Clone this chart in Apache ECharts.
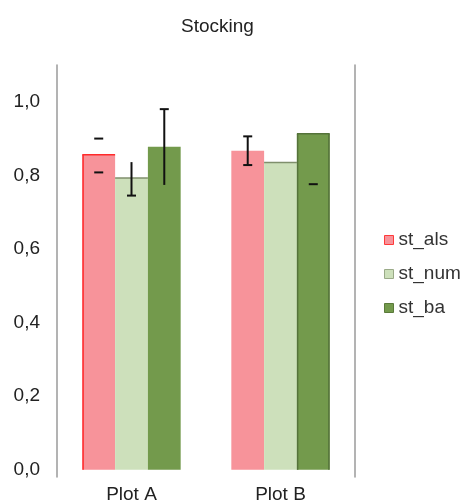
<!DOCTYPE html>
<html>
<head>
<meta charset="utf-8">
<script src="https://cdn.jsdelivr.net/npm/echarts@6/dist/echarts.min.js"></script>
<style>html,body{margin:0;padding:0;background:#fff}#c{width:464px;height:504px}</style>
</head>
<body>
<div id="c"></div>
<script>
const categories = ['Plot A', 'Plot B'];
const seriesNames = ['st_als', 'st_num', 'st_ba'];
const alsValues = [0.856, 0.867];
const numValues = [0.793, 0.835];
const baValues = [0.878, 0.913];
const alsErrLow = [0.808, 0.828];
const alsErrHigh = [0.900, 0.906];
const numErrLow = [0.745, null];
const numErrHigh = [0.836, null];
const baErrLow = [0.774, 0.776];
const baErrHigh = [0.980, null];
const yTickValues = [0, 0.2, 0.4, 0.6, 0.8, 1.0];

// which parts of each error bar are visible in the reference
const alsErrParts = [{stem:false, capLow:true, capHigh:true}, {stem:true, capLow:true, capHigh:true}];
const numErrParts = [{stem:true, capLow:true, capHigh:false}, null];
const baErrParts = [{stem:true, capLow:false, capHigh:true}, {stem:false, capLow:true, capHigh:false}];

// which bar edges are outlined (left, top, right) and in what colour
const alsEdges = [{color:'#ff2b2b', sides:['left','top']}, null];
const numEdges = [{color:'#7f8f6c', sides:['top']}, {color:'#7f8f6c', sides:['top']}];
const baEdges = [null, {color:'#55733a', sides:['left','top','right']}];

const colors = ['#f7939a', '#cde0bb', '#739a4c'];
const FONT = 'Liberation Sans, Arial, sans-serif';
const BAR_FRAC = 0.22;

function errSeries(k, low, high, parts) {
  const data = categories.map((c, i) => [i, low[i] == null ? NaN : low[i], high[i] == null ? NaN : high[i]]);
  return {
    type: 'custom',
    name: seriesNames[k] + '_err',
    z: 10,
    silent: true,
    encode: { x: 0, y: [1, 2] },
    data: data,
    renderItem: function (params, api) {
      const i = api.value(0);
      const p = parts[i];
      if (!p) return null;
      const band = api.size([1, 0])[0];
      const cx = api.coord([i, 0])[0] + (k - 1) * BAR_FRAC * band;
      const lo = api.value(1), hi = api.value(2);
      const children = [];
      const st = { stroke: '#111', lineWidth: 2 };
      const half = 4.5;
      const yLo = isNaN(lo) ? null : api.coord([i, lo])[1];
      const yHi = isNaN(hi) ? null : api.coord([i, hi])[1];
      if (p.stem && yLo != null && yHi != null) {
        children.push({ type: 'line', shape: { x1: cx, y1: yLo, x2: cx, y2: yHi }, style: st });
      }
      if (p.capLow && yLo != null) {
        children.push({ type: 'line', shape: { x1: cx - half, y1: yLo, x2: cx + half, y2: yLo }, style: st });
      }
      if (p.capHigh && yHi != null) {
        children.push({ type: 'line', shape: { x1: cx - half, y1: yHi, x2: cx + half, y2: yHi }, style: st });
      }
      return { type: 'group', children: children };
    }
  };
}

function edgeSeries(k, values, edges) {
  return {
    type: 'custom', name: seriesNames[k] + '_edge', z: 5, silent: true,
    encode: { x: 0, y: 1 },
    data: values.map((v, i) => [i, v]),
    renderItem: function (params, api) {
      const i = api.value(0);
      const e = edges[i];
      if (!e) return null;
      const band = api.size([1, 0])[0];
      const w = BAR_FRAC * band;
      const cx = api.coord([i, 0])[0] + (k - 1) * w;
      const y0 = api.coord([i, 0])[1];
      const y = api.coord([i, api.value(1)])[1];
      const x1 = cx - w / 2 + 0.75, x2 = cx + w / 2 - 0.75;
      const st = { stroke: e.color, lineWidth: 1.5 };
      const ch = [];
      if (e.sides.indexOf('left') >= 0) ch.push({ type: 'line', shape: { x1: x1, y1: y0, x2: x1, y2: y }, style: st });
      if (e.sides.indexOf('top') >= 0) ch.push({ type: 'line', shape: { x1: x1 - 0.75, y1: y, x2: x2 + 0.75, y2: y }, style: st });
      if (e.sides.indexOf('right') >= 0) ch.push({ type: 'line', shape: { x1: x2, y1: y0, x2: x2, y2: y }, style: st });
      return { type: 'group', children: ch };
    }
  };
}

const chart = echarts.init(document.getElementById('c'), null, { renderer: 'canvas' });
const yLabelFmt = v => v.toFixed(1).replace('.', ',');

chart.setOption({
  animation: false,
  backgroundColor: '#fff',
  title: {
    text: 'Stocking',
    left: 176, top: 12,
    textStyle: { fontFamily: FONT, fontSize: 19, fontWeight: 'normal', color: '#222', lineHeight: 20 }
  },
  legend: {
    orient: 'vertical',
    left: 379, top: 225,
    itemWidth: 9, itemHeight: 9,
    itemGap: 14,
    icon: 'rect',
    textStyle: { fontFamily: FONT, fontSize: 19, color: '#333', lineHeight: 20 },
    data: [
      { name: seriesNames[0], itemStyle: { color: colors[0], borderColor: '#ff3a3a', borderWidth: 1 } },
      { name: seriesNames[1], itemStyle: { color: colors[1], borderColor: '#9aaa88', borderWidth: 1 } },
      { name: seriesNames[2], itemStyle: { color: colors[2], borderColor: '#5a7a3a', borderWidth: 1 } }
    ]
  },
  grid: { left: 57, right: 109, top: 65, bottom: 27, containLabel: false },
  xAxis: {
    type: 'category',
    data: categories,
    axisLine: { show: false, onZero: false },
    axisTick: { show: false },
    axisLabel: { fontFamily: FONT, fontSize: 19, color: '#222', margin: 8 }
  },
  yAxis: [
    {
      type: 'value', min: -0.02, max: 1.1,
      position: 'left',
      splitLine: { show: false },
      axisTick: { show: false },
      axisLine: { show: true, lineStyle: { color: '#9a9a9a', width: 1.5 } },
      axisLabel: {
        customValues: yTickValues,
        formatter: yLabelFmt,
        fontFamily: FONT, fontSize: 19, color: '#222', margin: 17
      }
    },
    {
      type: 'value', min: -0.02, max: 1.1,
      position: 'right',
      splitLine: { show: false },
      axisTick: { show: false },
      axisLabel: { show: false },
      axisLine: { show: true, lineStyle: { color: '#9a9a9a', width: 1.5 } }
    }
  ],
  series: [
    {
      type: 'bar', name: seriesNames[0], barWidth: (BAR_FRAC * 100) + '%', barGap: '0%',
      itemStyle: { color: colors[0] },
      data: alsValues
    },
    {
      type: 'bar', name: seriesNames[1], barWidth: (BAR_FRAC * 100) + '%', barGap: '0%',
      itemStyle: { color: colors[1] },
      data: numValues
    },
    {
      type: 'bar', name: seriesNames[2], barWidth: (BAR_FRAC * 100) + '%', barGap: '0%',
      itemStyle: { color: colors[2] },
      data: baValues
    },
    edgeSeries(0, alsValues, alsEdges),
    edgeSeries(1, numValues, numEdges),
    edgeSeries(2, baValues, baEdges),
    errSeries(0, alsErrLow, alsErrHigh, alsErrParts),
    errSeries(1, numErrLow, numErrHigh, numErrParts),
    errSeries(2, baErrLow, baErrHigh, baErrParts)
  ]
});
</script>
</body>
</html>
